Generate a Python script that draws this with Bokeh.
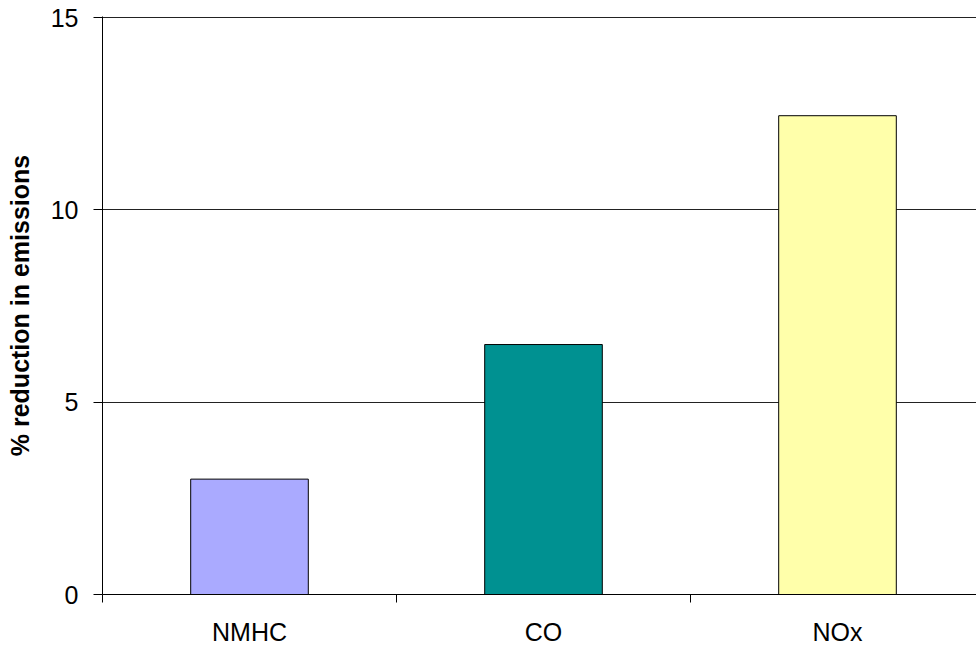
from bokeh.plotting import figure
from bokeh.models import Range1d, FixedTicker, ColumnDataSource
from bokeh.embed import file_html
from bokeh.resources import INLINE

categories = ["NMHC", "CO", "NOx"]
reduction = [3.0, 6.5, 12.45]
bar_colors = ["#AAAAFF", "#009191", "#FFFFAA"]
y_ticks = [0, 5, 10, 15]

xs = [i + 0.5 for i in range(len(categories))]
src = ColumnDataSource(dict(x=xs, top=reduction, color=bar_colors, cat=categories))

FONT = "Liberation Sans"

p = figure(width=976, height=648, output_backend="svg", toolbar_location=None,
           x_range=Range1d(0, 874 / 294), y_range=Range1d(0, 15.03),
           min_border_left=102, min_border_right=0, min_border_top=16, min_border_bottom=53)
p.outline_line_color = None
p.background_fill_color = "white"
p.border_fill_color = "white"

p.vbar(x="x", top="top", width=0.4, bottom=0, fill_color="color", line_color="black",
       line_width=1, source=src)

# x axis
p.xaxis.ticker = FixedTicker(ticks=xs, minor_ticks=list(range(len(categories) + 1)))
p.xaxis.major_label_overrides = {x: c for x, c in zip(xs, categories)}
p.xaxis.major_tick_line_color = None
p.xaxis.major_tick_out = 0
p.xaxis.major_tick_in = 0
p.xaxis.minor_tick_out = 8
p.xaxis.minor_tick_in = 0
p.xaxis.minor_tick_line_color = "black"
p.xaxis.axis_line_color = "black"
p.xaxis.major_label_text_font = FONT
p.xaxis.major_label_text_font_size = "25px"
p.xaxis.major_label_text_color = "black"
p.xaxis.major_label_standoff = 15

# y axis
p.yaxis.ticker = FixedTicker(ticks=y_ticks, minor_ticks=[])
p.yaxis.major_tick_out = 9
p.yaxis.major_tick_in = 0
p.yaxis.major_tick_line_color = "black"
p.yaxis.axis_line_color = "black"
p.yaxis.major_label_text_font = FONT
p.yaxis.major_label_text_font_size = "25px"
p.yaxis.major_label_text_color = "black"
p.yaxis.major_label_standoff = 15
p.yaxis.axis_label = "% reduction in emissions"
p.yaxis.axis_label_text_font = FONT
p.yaxis.axis_label_text_font_size = "25px"
p.yaxis.axis_label_text_font_style = "bold"
p.yaxis.axis_label_text_color = "black"
p.yaxis.axis_label_standoff = 14

p.xgrid.grid_line_color = None
p.ygrid.ticker = FixedTicker(ticks=y_ticks[1:])
p.ygrid.grid_line_color = "#222222"
p.ygrid.grid_line_width = 1

open("out.html", "w").write(file_html(p, INLINE))
